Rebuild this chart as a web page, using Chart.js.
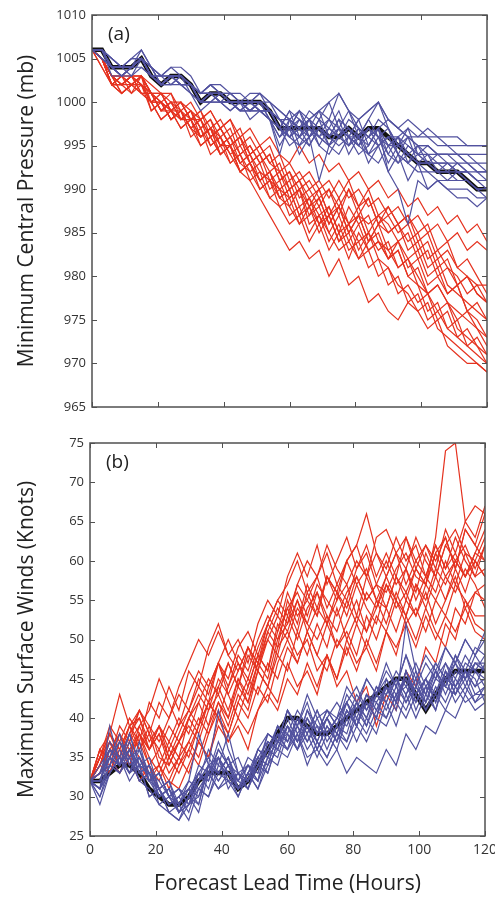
<!DOCTYPE html>
<html>
<head>
<meta charset="utf-8">
<title>Ensemble forecasts: pressure and wind</title>
<script src="https://cdn.jsdelivr.net/npm/chart.js@4.4.1/dist/chart.umd.min.js"></script>
<style>
    html, body { margin: 0; padding: 0; background: #fff; }
    #wrap { position: relative; width: 495px; height: 900px; overflow: hidden; }
    #wrap canvas { position: absolute; left: 0; }
    #pressureChart { top: 0; }
    #windChart { top: 430px; }
</style>
</head>
<body>
<div id="wrap">
    <canvas id="pressureChart" width="495" height="430"></canvas>
    <canvas id="windChart" width="495" height="470"></canvas>
</div>
<script>
// ─── DATA ───
const hours = [0, 3, 6, 9, 12, 15, 18, 21, 24, 27,
    30, 33, 36, 39, 42, 45, 48, 51, 54, 57,
    60, 63, 66, 69, 72, 75, 78, 81, 84, 87,
    90, 93, 96, 99, 102, 105, 108, 111, 114, 117,
    120];
const hourTicks = [0, 20, 40, 60, 80, 100, 120];
const pressureTicks = [965, 970, 975, 980, 985, 990, 995, 1000, 1005, 1010];
const windTicks = [25, 30, 35, 40, 45, 50, 55, 60, 65, 70, 75];

// (a) minimum central pressure, mb
const pressureControl = [1006,1006,1004,1004,1004,1005,1003,1002,1003,1003,
    1002,1000,1001,1001,1000,1000,1000,1000,999,997,
    997,997,997,997,996,996,997,996,997,997,
    996,995,994,993,993,992,992,992,991,990,
    990];

const pressureBlue = [
    [1006,1006,1004,1003,1004,1006,1004,1003,1004,1003, 1002,1001,1002,1001,1001,1001,1000,1001,1000,999, 998,999,998,999,1000,1001,999,998,999,1000, 998,997,998,997,996,996,995,995,995,995, 995],
    [1006,1006,1005,1004,1004,1005,1003,1002,1003,1002, 1002,1000,1001,1000,1000,999,999,1000,999,997, 996,998,997,996,995,997,996,996,995,997, 995,996,994,993,993,992,992,993,992,992, 991],
    [1006,1005,1004,1004,1005,1006,1004,1003,1004,1004, 1003,1001,1002,1002,1001,1000,1001,1001,1000,998, 997,996,998,997,996,998,997,995,996,998, 997,995,994,995,994,994,994,994,994,993, 993],
    [1006,1006,1003,1003,1004,1005,1003,1002,1002,1003, 1001,1000,1000,1001,1000,999,1000,999,998,994, 998,997,996,997,995,996,998,997,996,995, 996,994,993,992,992,991,991,991,991,990, 989],
    [1006,1006,1004,1004,1003,1005,1004,1002,1003,1003, 1002,1001,1001,1000,1001,1000,999,1000,1000,999, 998,997,999,998,997,996,995,996,998,996, 995,995,996,995,995,994,994,994,993,992, 992],
    [1006,1006,1004,1003,1004,1004,1003,1002,1003,1002, 1002,1000,1000,1000,999,1000,998,999,999,997, 995,996,997,995,994,996,997,996,994,993, 995,993,994,993,993,992,992,991,991,990, 990],
    [1006,1005,1004,1004,1004,1005,1003,1003,1003,1003, 1002,1001,1001,1000,1000,1000,1000,1000,998,997, 997,998,996,991,995,997,996,995,997,996, 994,993,995,994,994,993,993,993,992,991, 991],
    [1006,1006,1004,1004,1004,1005,1003,1002,1002,1002, 1001,999,1000,1000,1000,999,1000,1000,999,998, 996,997,998,996,998,1001,999,997,996,997, 998,997,996,996,997,996,996,996,995,995, 995],
    [1006,1006,1005,1004,1005,1005,1004,1003,1003,1003, 1002,1001,1002,1001,1000,1000,1000,999,999,997, 996,995,996,997,996,995,996,994,995,997, 992,990,986,991,990,991,990,990,990,989, 989],
    [1006,1006,1004,1004,1004,1005,1003,1002,1003,1002, 1002,1000,1001,1001,1000,1000,999,999,998,996, 997,996,995,997,998,996,995,997,996,997, 995,996,995,994,993,993,993,992,992,991, 991],
    [1006,1006,1004,1003,1003,1004,1003,1002,1003,1002, 1001,1000,1000,1001,1000,999,999,1000,999,998, 998,997,998,999,998,997,996,998,999,1000, 998,997,996,995,995,994,994,994,993,993, 992],
    [1006,1006,1004,1004,1004,1005,1003,1003,1003,1003, 1002,1001,1001,1001,1000,1000,1000,1000,999,998, 997,999,997,996,997,996,997,996,997,996, 993,995,994,993,992,992,991,992,991,990, 990],
    [1006,1006,1004,1004,1004,1005,1004,1002,1003,1003, 1002,1000,1001,1001,1000,1000,1000,1000,999,997, 999,998,997,996,995,994,996,995,997,995, 996,996,997,996,996,995,995,994,994,994, 994],
    [1006,1006,1005,1004,1004,1005,1003,1002,1003,1003, 1002,1000,1001,1000,1000,1000,999,999,998,997, 996,997,995,997,996,997,996,995,994,995, 996,994,993,994,993,993,992,992,992,991, 990],
    [1006,1006,1004,1004,1004,1005,1003,1002,1003,1003, 1002,1001,1001,1001,1000,1000,1000,999,999,997, 999,996,998,995,997,999,996,998,995,997, 994,996,993,995,993,994,993,992,992,991, 991],
    [1006,1005,1004,1003,1004,1005,1003,1003,1002,1003, 1002,1000,1001,1000,999,1000,999,1000,998,996, 998,995,997,999,996,998,995,997,994,996, 997,994,996,993,994,992,993,992,991,990, 990],
    [1006,1006,1004,1004,1005,1005,1004,1002,1003,1003, 1002,1001,1002,1001,1001,1000,1000,1001,999,998, 997,999,996,998,1000,997,999,996,998,1000, 997,995,997,994,995,994,994,993,993,992, 992],
    [1006,1006,1004,1003,1004,1005,1003,1002,1003,1002, 1002,1000,1001,1000,1000,999,1000,999,998,995, 997,994,996,998,995,997,994,996,993,995, 992,994,991,993,990,991,990,989,989,988, 989]
];

const pressureRed = [
    [1006,1005,1002,1003,1002,1003,1000,1001,999,1000, 998,999,996,997,995,996,993,994,991,992, 989,990,987,989,986,988,985,987,984,986, 983,984,982,983,980,981,978,979,976,975, 973],
    [1006,1005,1002,1001,1002,1003,1001,1000,1001,998, 999,997,998,996,997,994,995,993,994,991, 992,990,991,989,990,988,990,987,989,986, 987,985,986,983,984,981,982,979,980,978, 977],
    [1006,1004,1002,1003,1001,1002,1000,998,999,997, 998,995,996,994,995,992,993,990,991,988, 989,986,988,985,987,984,986,983,985,982, 981,979,978,976,977,974,973,972,971,970, 969],
    [1006,1005,1003,1002,1003,1003,1001,1001,1000,1000, 999,998,999,997,998,996,997,995,996,994, 993,995,993,994,992,993,991,992,990,991, 989,990,988,989,987,988,986,987,985,986, 984],
    [1006,1005,1003,1001,1002,1002,999,1000,998,999, 997,996,997,994,995,993,994,991,992,989, 990,987,989,986,988,985,988,986,987,984, 983,981,982,979,978,976,977,974,973,972, 970],
    [1006,1005,1003,1003,1002,1003,1001,999,1000,998, 999,997,998,995,996,994,995,993,994,991, 992,989,990,988,990,987,990,988,989,986, 988,986,987,985,986,983,984,981,982,980, 978],
    [1006,1005,1002,1002,1001,1003,999,1000,998,999, 996,997,994,995,993,994,991,992,989,990, 987,988,985,987,984,986,983,984,981,982, 979,980,977,978,975,976,974,975,972,973, 971],
    [1006,1005,1003,1003,1003,1003,1002,1001,1001,999, 1000,998,999,997,998,995,996,994,995,992, 993,991,992,990,991,989,991,988,990,987, 988,986,987,984,985,982,983,981,980,979, 979],
    [1006,1004,1002,1001,1002,1001,1000,998,999,997, 998,996,997,994,995,992,993,991,989,988, 986,987,984,986,983,985,982,985,983,984, 982,983,980,979,976,977,974,973,972,971, 970],
    [1006,1005,1003,1002,1003,1002,1001,999,1000,998, 999,996,997,995,996,993,994,992,991,990, 989,990,988,989,986,988,985,987,986,987, 985,986,983,984,981,982,979,978,977,976, 975],
    [1006,1005,1002,1002,1003,1001,1000,1000,998,999, 997,995,996,994,995,992,991,989,987,985, 983,984,982,983,980,982,979,980,977,978, 976,975,977,976,974,975,972,971,970,970, 969],
    [1006,1005,1003,1003,1002,1003,1001,1001,999,1000, 998,999,997,998,996,997,994,995,993,994, 991,992,990,991,989,991,989,990,988,989, 987,988,986,987,985,986,984,985,983,984, 983],
    [1006,1005,1003,1002,1002,1001,1001,999,999,998, 998,996,997,995,995,993,992,990,991,989, 988,986,987,988,985,987,984,986,983,984, 982,983,980,981,978,979,977,976,975,974, 973],
    [1006,1005,1003,1002,1003,1001,1001,1000,999,1000, 998,998,996,997,995,996,993,994,992,993, 990,991,988,990,987,989,986,988,985,987, 986,984,985,982,983,980,981,979,980,978, 977],
    [1006,1005,1002,1003,1003,1002,1000,1001,999,999, 998,996,997,996,994,995,993,991,992,990, 991,988,989,987,988,985,986,984,985,983, 984,981,982,980,978,979,977,975,976,974, 972],
    [1006,1005,1003,1001,1002,1002,1001,1000,998,999, 997,998,995,996,994,992,993,991,992,989, 990,987,988,986,987,984,985,982,984,985, 982,984,981,982,979,980,978,979,976,977, 975],
    [1006,1005,1003,1002,1003,1002,1000,1000,999,998, 999,997,995,996,993,994,992,993,990,991, 988,990,986,987,985,983,984,982,983,980, 981,978,979,977,978,975,976,973,974,972, 971],
    [1006,1005,1002,1002,1003,1003,1001,999,1000,999, 997,998,996,997,995,996,994,995,993,992, 990,991,989,990,987,988,986,987,984,986, 985,986,984,985,982,983,981,980,978,979, 977]
];

// (b) maximum surface winds, knots
const windControl = [32,32,33,34,34,33,31,30,29,29,
    30,32,33,33,33,31,32,34,36,38,
    40,40,39,38,38,39,40,41,42,43,
    44,45,45,43,41,43,45,46,46,46,
    46];

const windBlue = [
    [32,29,33,35,33,35,32,33,30,31, 29,32,34,32,34,31,33,36,35,39, 37,40,38,41,38,40,42,39,43,41, 44,42,46,43,45,42,45,47,44,47, 46],
    [32,31,39,34,36,33,34,30,31,28, 30,33,31,35,33,32,35,34,38,37, 41,38,40,37,40,38,42,40,43,41, 43,45,42,44,42,45,47,44,46,44, 47],
    [32,33,35,38,34,35,32,33,30,29, 31,29,34,41,36,33,34,32,37,36, 39,37,39,36,39,37,41,39,42,40, 44,42,46,43,45,43,46,44,46,43, 44],
    [32,33,35,34,38,34,35,31,32,28, 30,32,34,32,34,31,33,32,35,37, 36,38,35,36,34,36,33,35,34,33, 36,34,38,36,39,38,41,40,43,41, 42],
    [32,31,34,33,35,32,33,29,28,27, 29,30,33,31,33,30,33,35,34,38, 37,39,36,38,40,38,41,39,43,42, 44,42,52,46,43,46,44,48,45,47, 47],
    [32,32,36,34,36,33,32,30,31,29, 32,38,34,35,32,33,31,34,36,35, 39,37,41,38,40,37,40,42,39,43, 41,44,42,45,41,44,42,45,43,46, 44],
    [32,30,33,35,32,34,30,31,28,27, 30,28,33,31,32,30,33,31,35,34, 38,36,38,35,38,36,40,37,40,38, 42,39,43,40,43,41,45,42,44,42, 43],
    [32,32,35,37,35,36,32,33,30,31, 30,34,33,37,34,35,32,36,38,37, 41,39,43,40,41,39,43,41,45,43, 47,44,48,45,48,46,49,47,50,48, 51],
    [32,34,36,34,36,33,34,30,31,28, 30,29,34,33,35,32,34,32,37,36, 40,37,39,36,39,37,41,39,42,40, 44,41,46,42,44,41,46,43,46,44, 45],
    [32,31,34,33,36,34,33,32,30,31, 29,33,32,35,31,33,32,36,35,39, 37,40,38,41,38,40,42,39,42,40, 45,42,45,41,44,43,47,45,48,46, 48],
    [32,32,35,34,36,32,33,31,29,30, 31,33,35,33,35,31,34,33,38,37, 41,39,42,38,41,40,44,42,45,43, 46,44,48,44,47,45,49,47,50,48, 50],
    [32,31,33,35,33,34,30,31,28,29, 27,31,30,33,32,31,33,31,34,36, 35,38,34,37,35,38,36,39,37,40, 39,42,40,43,41,43,41,44,42,43, 43],
    [32,33,35,34,37,33,34,31,32,29, 31,30,34,33,35,31,33,35,34,38, 36,40,37,39,36,39,38,42,40,43, 42,45,43,46,42,46,44,47,45,47, 46],
    [32,33,34,37,34,35,32,31,29,30, 28,32,33,35,33,32,34,33,36,38, 36,39,37,40,37,39,37,41,39,42, 40,43,45,43,45,42,46,43,45,42, 44],
    [32,30,34,36,33,37,32,33,30,28, 30,32,36,34,38,33,32,35,33,37, 39,36,40,38,41,39,42,44,41,43, 45,43,44,47,44,46,43,46,45,48, 46],
    [32,32,36,35,33,36,33,31,29,30, 32,31,33,36,34,32,31,34,36,39, 38,41,39,37,40,42,40,43,41,44, 43,46,44,42,45,47,45,48,46,49, 48],
    [32,31,35,33,35,32,31,29,30,28, 29,31,30,34,33,31,32,34,33,37, 38,36,39,37,35,38,37,40,38,41, 40,43,41,44,42,45,44,43,46,45, 42],
    [32,33,37,35,38,34,33,30,31,29, 31,33,32,36,34,33,31,35,37,36, 39,37,41,39,38,40,39,42,40,44, 42,45,43,45,43,47,45,44,47,46, 45]
];

const windRed = [
    [32,35,37,34,38,36,39,35,34,37, 40,38,42,44,41,45,43,47,50,48, 53,50,54,56,52,55,57,53,58,55, 54,58,56,59,57,61,58,60,62,59, 62],
    [32,34,38,43,39,40,36,38,35,38, 41,39,44,47,44,48,46,50,53,51, 56,53,55,58,54,57,55,59,61,57, 56,59,61,58,57,61,63,59,64,62, 66],
    [32,33,36,34,37,39,41,45,42,39, 43,46,44,47,43,46,49,47,51,54, 52,57,55,53,58,56,54,58,55,57, 54,58,55,59,57,63,74,75,65,67, 66],
    [32,36,33,37,35,38,34,32,35,37, 35,39,42,40,44,47,44,48,46,51, 54,51,56,53,58,56,60,62,66,61, 58,61,59,63,60,58,62,64,61,60, 63],
    [32,33,36,34,37,35,33,34,31,34, 36,34,38,41,38,42,40,44,42,47, 50,47,51,48,52,49,51,48,53,50, 54,51,55,53,56,52,55,58,54,56, 57],
    [32,35,34,38,36,37,34,36,33,35, 37,35,39,42,39,43,41,46,44,49, 51,48,50,46,48,44,46,42,44,39, 43,41,46,44,49,47,52,50,55,53, 53],
    [32,34,37,35,38,40,37,39,36,39, 41,44,42,47,45,49,51,48,52,55, 53,57,60,58,61,57,60,62,58,63, 64,61,63,59,62,60,63,59,64,62, 60],
    [32,33,35,33,36,34,32,34,32,35, 33,37,35,39,37,40,38,41,43,41, 45,43,47,44,48,45,49,46,50,47, 51,49,52,49,53,50,53,51,54,51, 50],
    [32,35,38,36,39,41,38,42,40,44, 47,50,48,51,48,46,49,47,52,55, 57,60,56,58,62,59,57,60,58,61, 59,63,60,62,58,62,59,61,58,60, 58],
    [32,34,36,38,35,39,36,38,34,37, 39,37,41,43,40,44,42,47,45,50, 52,55,51,54,52,56,53,57,54,52, 57,55,59,55,58,56,60,57,61,58, 59],
    [32,33,35,33,35,32,34,31,32,31, 34,37,35,40,37,39,36,41,44,42, 47,44,46,43,48,45,50,47,49,46, 51,48,53,50,54,51,49,54,52,56, 55],
    [32,36,38,35,39,37,42,40,44,41, 46,44,49,52,48,50,47,52,55,53, 58,61,58,62,57,60,63,59,62,58, 61,58,63,60,62,59,64,61,65,63, 67],
    [32,34,37,34,36,38,35,33,36,34, 37,40,38,42,40,45,42,46,44,48, 46,51,48,52,49,54,50,53,51,55, 52,56,53,57,54,58,55,59,56,60, 58],
    [32,35,38,36,39,36,38,34,37,35, 40,42,39,44,47,44,48,46,51,49, 55,52,57,54,58,55,60,57,59,55, 58,61,57,60,58,62,59,63,60,58, 62],
    [32,36,35,39,37,41,38,36,39,37, 40,43,41,45,43,40,44,48,46,52, 50,54,52,56,53,51,55,52,56,54, 58,55,53,57,55,59,57,60,58,61, 60],
    [32,34,33,36,34,38,36,39,37,40, 38,42,45,43,47,44,49,46,50,53, 51,55,52,50,53,49,52,55,51,54, 57,54,56,53,57,55,58,56,59,57, 54],
    [32,35,39,37,40,38,36,39,35,33, 36,39,42,40,38,42,45,43,47,45, 49,47,51,48,46,50,48,52,49,53, 51,55,52,54,51,55,53,57,55,52, 51],
    [32,33,36,35,38,41,39,37,40,43, 41,45,43,47,50,47,45,49,52,50, 54,56,53,57,55,53,56,58,55,57, 60,57,59,56,61,58,62,60,58,61, 64]
];

// ─── STYLE ───
const RED = '#e5321f';
const BLUE = '#52529f';
const BLACK = '#111111';
const FONT = '"Open Sans", "DejaVu Sans", sans-serif';
const INK = '#333333';

(function () {
    'use strict';

    // ─── SERIES ───
    function series(values, color, width, order) {
        return {
            data: values.map((v, i) => ({ x: hours[i], y: v })),
            borderColor: color,
            borderWidth: width,
            pointRadius: 0,
            tension: 0,
            fill: false,
            order: order
        };
    }

    function buildDatasets(control, red, blue) {
        const out = [];
        blue.forEach(s => out.push(series(s, BLUE, 1.2, 0)));
        red.forEach(s => out.push(series(s, RED, 1.2, 1)));
        out.push(series(control, BLACK, 4.5, 2));
        return out;
    }

    // ─── BOX + INWARD TICKS (matlab look) ───
    function framePlugin(label, yTicks) {
        return {
            id: 'frame',
            afterDatasetsDraw(chart) {
                const { ctx, chartArea: a, scales: { x, y } } = chart;
                ctx.save();
                ctx.strokeStyle = '#505050';
                ctx.lineWidth = 1.5;
                ctx.strokeRect(a.left, a.top, a.right - a.left, a.bottom - a.top);
                ctx.lineWidth = 1;
                ctx.beginPath();
                hourTicks.forEach(v => {
                    const px = Math.round(x.getPixelForValue(v)) + 0.5;
                    ctx.moveTo(px, a.bottom); ctx.lineTo(px, a.bottom - 5);
                    ctx.moveTo(px, a.top); ctx.lineTo(px, a.top + 5);
                });
                yTicks.forEach(v => {
                    const py = Math.round(y.getPixelForValue(v)) + 0.5;
                    ctx.moveTo(a.left, py); ctx.lineTo(a.left + 5, py);
                    ctx.moveTo(a.right, py); ctx.lineTo(a.right - 5, py);
                });
                ctx.stroke();
                ctx.fillStyle = '#222';
                ctx.font = '19px ' + FONT;
                ctx.textBaseline = 'middle';
                ctx.textAlign = 'left';
                ctx.fillText(label, a.left + 16, a.top + 20);
                ctx.restore();
            }
        };
    }

    function yAxis(min, max, ticksArr, title, width) {
        return {
            type: 'linear', min: min, max: max,
            afterBuildTicks: s => { s.ticks = ticksArr.map(v => ({ value: v })); },
            afterFit: s => { s.width = width; s.paddingTop = 0; s.paddingBottom = 0; },
            grid: { display: false, drawTicks: false },
            border: { display: false },
            ticks: { color: INK, font: { family: FONT, size: 13 }, padding: 6, callback: v => String(v) },
            title: { display: true, text: title, color: '#222', font: { family: FONT, size: 21 }, padding: { top: 14, bottom: 0 } }
        };
    }

    function xAxis(showLabels, height) {
        const ax = {
            type: 'linear', min: 0, max: 120,
            afterBuildTicks: s => { s.ticks = hourTicks.map(v => ({ value: v })); },
            afterFit: s => { s.height = height; s.paddingLeft = 0; s.paddingRight = 0; },
            grid: { display: false, drawTicks: false },
            border: { display: false },
            ticks: { display: showLabels, color: INK, font: { family: FONT, size: 14 }, padding: 6, maxRotation: 0, callback: v => String(v) }
        };
        if (showLabels) {
            ax.title = { display: true, text: 'Forecast Lead Time (Hours)', color: '#222', font: { family: FONT, size: 21 }, padding: { top: 0, bottom: 3 } };
        }
        return ax;
    }

    function makeChart(id, datasets, scales, padding, plugin) {
        return new Chart(document.getElementById(id), {
            type: 'line',
            data: { datasets: datasets },
            options: {
                responsive: false,
                animation: false,
                layout: { padding: padding },
                plugins: { legend: { display: false }, tooltip: { enabled: false } },
                scales: scales
            },
            plugins: [plugin]
        });
    }

    makeChart('pressureChart',
        buildDatasets(pressureControl, pressureRed, pressureBlue),
        { x: xAxis(false, 23), y: yAxis(965, 1010, pressureTicks, 'Minimum Central Pressure (mb)', 92) },
        { top: 15, right: 8, left: 0, bottom: 0 },
        framePlugin('(a)', pressureTicks));

    makeChart('windChart',
        buildDatasets(windControl, windRed, windBlue),
        { x: xAxis(true, 64), y: yAxis(25, 75, windTicks, 'Maximum Surface Winds (Knots)', 90) },
        { top: 13, right: 10, left: 0, bottom: 0 },
        framePlugin('(b)', windTicks));

    // sanity: every series must have one value per lead time
    const all = [pressureControl, windControl].concat(pressureBlue, pressureRed, windBlue, windRed);
    const bad = all.map((s, i) => [i, s.length]).filter(p => p[1] !== hours.length);
    if (bad.length) throw new Error('bad series length: ' + JSON.stringify(bad));
})();
</script>
</body>
</html>
